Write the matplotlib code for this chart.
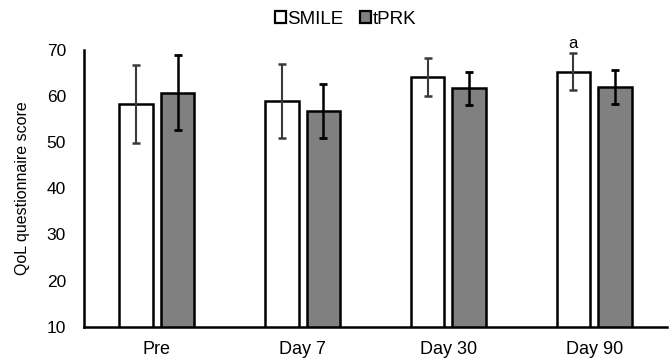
import matplotlib
matplotlib.use("Agg")
import matplotlib.pyplot as plt
from matplotlib.patches import Patch
import numpy as np

plt.rcParams['font.family'] = ['Liberation Sans', 'DejaVu Sans']

categories = ["Pre", "Day 7", "Day 30", "Day 90"]
smile_mean = [58.2, 58.85, 64.0, 65.2]
smile_err = [8.5, 8.05, 4.1, 4.0]
tprk_mean = [60.7, 56.7, 61.6, 62.0]
tprk_err = [8.05, 5.9, 3.6, 3.7]
series_names = ["SMILE", "tPRK"]
annotations = {3: "a"}

fig = plt.figure(figsize=(6.72, 3.62), dpi=100)
ax = fig.add_axes([84/672, 1-326.7/362, (667-84)/672, (326.7-49.7)/362])

x = np.arange(len(categories))
w = 0.23
off = 0.142
lw = 1.8
ax.bar(x - off, smile_mean, w, bottom=0, color='white', edgecolor='black', linewidth=lw, zorder=2)
ax.bar(x + off, tprk_mean, w, bottom=0, color='#808080', edgecolor='black', linewidth=lw, zorder=2)
ax.errorbar(x - off, smile_mean, yerr=smile_err, fmt='none', ecolor='#3a3a3a',
            elinewidth=1.5, capsize=3, capthick=1.8, zorder=3)
ax.errorbar(x + off, tprk_mean, yerr=tprk_err, fmt='none', ecolor='black',
            elinewidth=1.8, capsize=3, capthick=2.0, zorder=3)

for i, t in annotations.items():
    ax.text(x[i] - off, smile_mean[i] + smile_err[i] + 2.2, t, ha='center', va='center',
            fontsize=12, clip_on=False)

ax.set_xlim(-0.5, 3.5)
ax.set_ylim(10, 70)
ax.set_yticks([10, 20, 30, 40, 50, 60, 70])
ax.set_xticks(x)
ax.set_xticklabels(categories)
ax.tick_params(axis='both', length=0, labelsize=12.5)
ax.tick_params(axis='x', labelsize=13)
ax.tick_params(axis='y', pad=13.0)
ax.tick_params(axis='x', pad=10.0)
for s in ['top', 'right']:
    ax.spines[s].set_visible(False)
for s in ['left', 'bottom']:
    ax.spines[s].set_linewidth(1.8)
    ax.spines[s].set_color('black')

ax.set_ylabel("QoL questionnaire score", fontsize=11.5)
ax.yaxis.set_label_coords(-0.092, 0.5)

handles = [Patch(facecolor='white', edgecolor='black', linewidth=1.6),
           Patch(facecolor='#808080', edgecolor='black', linewidth=1.6)]
fig.legend(handles, series_names, loc='center', bbox_to_anchor=(0.514, 0.946), ncol=2,
           frameon=False, fontsize=13.5, handlelength=0.6, handleheight=0.6,
           handletextpad=0.05, columnspacing=0.9, borderpad=0, borderaxespad=0)

fig.savefig("out.png", dpi=100)
